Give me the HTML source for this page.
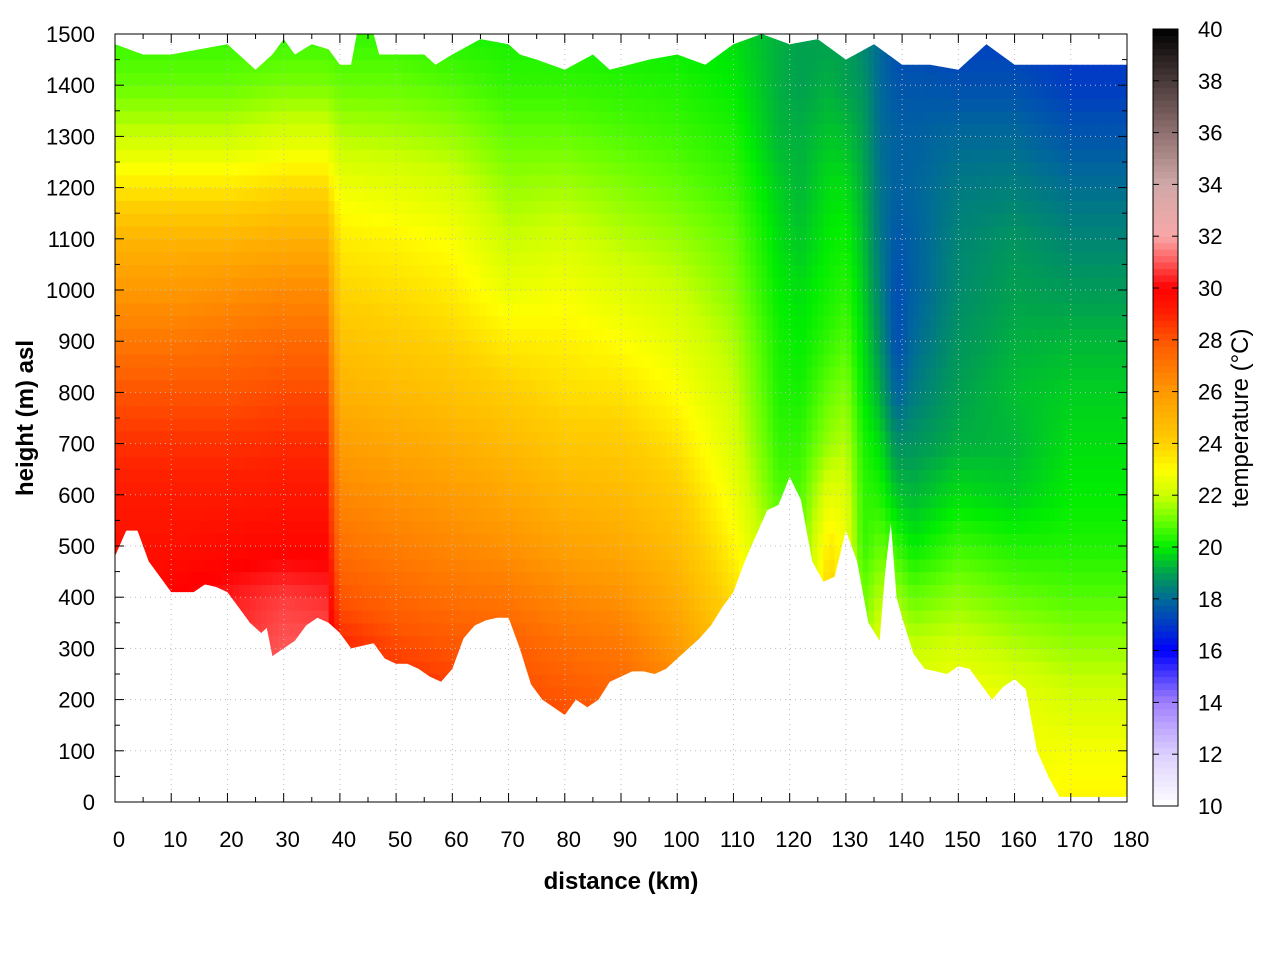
<!DOCTYPE html>
<html><head><meta charset="utf-8"><style>
body{margin:0;background:#fff}
svg text{font-family:"Liberation Sans",sans-serif;fill:#000}
</style></head><body>
<svg id="chart" width="1280" height="960" viewBox="0 0 1280 960" xmlns="http://www.w3.org/2000/svg">
<defs><clipPath id="dataClip"><path id="clipShape"/></clipPath></defs>
<g id="cells" clip-path="url(#dataClip)"></g>
<g id="grid"></g>
<g id="axes"></g>
<g id="cbar"></g>
<text x="621" y="889" text-anchor="middle" font-size="24" font-weight="bold">distance (km)</text>
<text transform="translate(33,418) rotate(-90)" text-anchor="middle" font-size="24" font-weight="bold">height (m) asl</text>
<text transform="translate(1248,418) rotate(-90)" text-anchor="middle" font-size="24">temperature (°C)</text>
</svg>
<script>
const heights=[0,100,200,300,400,500,600,700,800,900,1000,1100,1200,1300,1400,1500];
const dists=[0,10,20,30,37.5,40,50,60,70,80,90,100,110,118,122,127,130,133,136,139,142,150,160,170,180];
const temps=[
[29.5,29.5,29.5,29.5,29.5,29.5,29.2,28.7,28,27,26,25,23.5,22,21,20.5],
[30,30,30,30,30,29.5,29.2,28.7,28,27,26,25,23.5,22,21,20.5],
[30.5,30.5,30.5,30.5,30.3,29.7,29.2,28.7,28,27.2,26.2,25,23.5,22,21,20.5],
[31,31,31,31,30.7,29.8,29.3,28.8,28.2,27.4,26.4,25.2,23.8,22.3,21.2,20.5],
[31,31,31,31,30.5,29.8,29.3,28.8,28.2,27.4,26.4,25.2,23.8,22.3,21.2,20.5],
[29.3,29.3,29.3,29,28,27.2,26.5,25.8,25.1,24.5,23.9,23.4,22.7,21.8,21,20.5],
[29,29,29,28.3,27.5,26.8,26.2,25.5,24.8,24.2,23.7,23.2,22.5,21.7,21,20.5],
[28.8,28.8,28.6,28,27.2,26.5,25.9,25.2,24.5,23.9,23.4,22.9,22.2,21.5,20.8,20.3],
[28.5,28.5,28.3,27.8,27,26.2,25.5,24.8,24.1,23.4,22.6,22,21.5,21,20.5,20.2],
[28.5,28.5,28,27.3,26.5,25.7,25,24.3,23.7,23.3,22.8,22.2,21.6,21,20.5,20.2],
[28.2,28,27.6,27,26.2,25.4,24.8,24.2,23.6,23,22.4,21.8,21.3,20.8,20.4,20.1],
[27.5,27.3,26.8,26,25.3,24.7,24.2,23.6,23,22.5,22,21.5,21,20.6,20.3,20],
[25,25,24.8,24.2,23.7,23.2,22.7,22.3,22,21.7,21.3,21,20.6,20.3,20,19.8],
[22,22,22,22,21.8,21.3,20.8,20.5,20.3,20.2,20,19.8,19.6,19.3,19.2,19.2],
[21,21,21,21,21,21,20.8,20.5,20.2,20,19.8,19.5,19.3,19.2,19,19],
[24.5,24.5,24.5,24.5,24.2,23.5,22.5,21.5,21,20.5,20.2,20,19.8,19.5,19.2,19],
[23,23,23,23,23,22.8,22.3,21.8,21.3,20.8,20.4,20.1,19.8,19.4,19,19],
[21.5,21.5,21.5,21.5,21,20.5,20.5,20.3,20,19.8,19.6,19.4,19.2,19,18.8,18.5],
[22.5,22.5,22.5,22.5,21.8,21,20.3,19.8,19.2,18.8,18.5,18.3,18.2,18.1,18,18],
[22.5,22.5,22.5,22.5,21.5,20.5,19.5,18.7,17.8,17.4,17.4,17.6,17.8,17.8,17.6,17.3],
[22.5,22.5,22.5,22,21,20,19.3,18.8,18.3,18,17.8,17.8,17.9,17.8,17.6,17.3],
[23,23,23,22.2,21.4,20.6,19.8,19.2,19,18.8,18.6,18.5,18.3,18,17.5,17.1],
[22.8,22.8,22.6,21.8,21,20.3,19.6,19.3,19.4,19.2,19,18.8,18.4,18,17.5,17.1],
[23.2,22.8,22.2,21.5,20.8,20.3,20,19.8,19.6,19.3,18.9,18.5,18.1,17.6,17.1,17],
[23.2,22.8,22.2,21.5,20.8,20.3,20,19.8,19.6,19.3,18.9,18.5,18.1,17.6,17.1,17]];
const groundKm=[0,2,4,6,8,10,12,14,16,18,20,22,24,26,27,28,30,32,34,36,38,40,42,44,46,48,50,52,54,56,58,60,62,64,66,68,70,72,74,76,78,80,82,84,86,88,90,92,94,96,98,100,102,104,106,108,110,112,114,116,118,120,122,124,126,128,130,132,134,136,137,138,139,140,142,144,146,148,150,152,154,156,158,160,162,164,166,168,170,180];
const groundM=[480,530,530,470,440,410,410,410,425,420,410,380,350,330,340,285,300,315,345,360,350,330,300,305,310,280,270,270,260,245,235,260,320,345,355,360,360,300,230,200,185,170,200,185,200,235,245,255,255,250,260,280,300,320,345,380,410,470,520,570,580,635,590,470,430,440,530,470,350,315,450,545,400,360,290,260,255,250,265,260,230,200,225,240,220,100,50,10,10,10];
const topKm=[0,5,10,15,20,22,25,28,30,32,35,38,40,42,43,46,47,50,55,57,60,65,70,72,75,80,85,88,95,100,105,110,115,120,125,130,135,140,145,150,155,160,162,180];
const topM=[1480,1460,1460,1470,1480,1460,1430,1460,1490,1460,1480,1470,1440,1440,1500,1500,1460,1460,1460,1440,1460,1490,1480,1460,1450,1430,1460,1430,1450,1460,1440,1480,1500,1480,1490,1450,1480,1440,1440,1430,1480,1440,1440,1440];
const cbStops=[10,12,14,16,17,18,19,20,21,22,23,24,26,28,29,30,31,32,34,36,38,40];
const cbColors=['#ffffff','#ddd0ff','#a080ff','#0000ff','#0038c8','#006a98','#00a050','#00ee00','#66ff00','#ccff00','#ffff00','#ffd000','#ff9900','#ff5500','#ff2000','#ff0000','#ff5858','#f8a8a8','#d0a8a8','#907070','#4a3a3a','#000000'];
const xTicks=[0,10,20,30,40,50,60,70,80,90,100,110,120,130,140,150,160,170,180];
const yTicks=[0,100,200,300,400,500,600,700,800,900,1000,1100,1200,1300,1400,1500];
const cbTicks=[10,12,14,16,18,20,22,24,26,28,30,32,34,36,38,40];

const X0=115,X1=1127,Y0=802,Y1=34;
const xs=d=>X0+(d/180)*(X1-X0);
const ys=h=>Y0-(h/1500)*(Y0-Y1);
const CB_Y0=806,CB_Y1=29,CB_X=1153,CB_W=25;
const cs=t=>CB_Y0-(t-10)/30*(CB_Y0-CB_Y1);
const NS='http://www.w3.org/2000/svg';
function hex(c){return [1,3,5].map(i=>parseInt(c.substr(i,2),16));}
function color(t){
  if(t<=cbStops[0])return cbColors[0];
  for(let i=1;i<cbStops.length;i++){
    if(t<=cbStops[i]){
      const f=(t-cbStops[i-1])/(cbStops[i]-cbStops[i-1]);
      const a=hex(cbColors[i-1]),b=hex(cbColors[i]);
      return 'rgb('+a.map((v,k)=>Math.round(v+(b[k]-v)*f)).join(',')+')';
    }
  }
  return cbColors[cbColors.length-1];
}
function mk(tag,attrs,parent){const e=document.createElementNS(NS,tag);for(const k in attrs)e.setAttribute(k,attrs[k]);parent.appendChild(e);return e;}
function interpCol(arr,d){
  let i=0;while(i<dists.length-2&&d>dists[i+1])i++;
  const f=Math.max(0,Math.min(1,(d-dists[i])/(dists[i+1]-dists[i])));
  return arr[i].map((v,k)=>v+(arr[i+1][k]-v)*f);
}
function interpH(col,h){
  let j=Math.min(14,Math.floor(h/100));const f=(h-heights[j])/100;
  return col[j]+(col[j+1]-col[j])*f;
}
let dpath='M'+xs(groundKm[0])+','+ys(groundM[0]);
for(let i=1;i<groundKm.length;i++)dpath+='L'+xs(groundKm[i]).toFixed(1)+','+ys(groundM[i]).toFixed(1);
for(let i=topKm.length-1;i>=0;i--)dpath+='L'+xs(topKm[i]).toFixed(1)+','+ys(topM[i]).toFixed(1);
dpath+='Z';
document.getElementById('clipShape').setAttribute('d',dpath);
const cells=document.getElementById('cells');
const DK=1,DH=25;
for(let d=0;d<180;d+=DK){
  const col=interpCol(temps,d+DK/2);
  for(let h=0;h<1500;h+=DH){
    const t=interpH(col,h+DH/2);
    const r=mk('rect',{x:xs(d).toFixed(2),y:ys(h+DH).toFixed(2),width:(xs(d+DK)-xs(d)+0.6).toFixed(2),height:(ys(h)-ys(h+DH)+0.6).toFixed(2),fill:color(t)},cells);
    
    
  }
}
const grid=document.getElementById('grid');
xTicks.forEach(v=>{if(v>0&&v<180){const l=mk('line',{x1:xs(v),x2:xs(v),y1:Y1,y2:Y0,stroke:'#bbb','stroke-width':1,'stroke-dasharray':'1,4'},grid);}});
yTicks.forEach(v=>{if(v>0&&v<1500){const l=mk('line',{x1:X0,x2:X1,y1:ys(v),y2:ys(v),stroke:'#bbb','stroke-width':1,'stroke-dasharray':'1,4'},grid);}});
const ax=document.getElementById('axes');
const frame=mk('rect',{x:X0,y:Y1,width:X1-X0,height:Y0-Y1,fill:'none',stroke:'#000','stroke-width':1},ax);


xTicks.forEach(v=>{
  const x=xs(v);
  mk('line',{x1:x,x2:x,y1:Y0,y2:Y0-9,stroke:'#000'},ax);
  mk('line',{x1:x,x2:x,y1:Y1,y2:Y1+9,stroke:'#000'},ax);
  if(v<180){const xm=xs(v+5);mk('line',{x1:xm,x2:xm,y1:Y0,y2:Y0-5,stroke:'#000'},ax);mk('line',{x1:xm,x2:xm,y1:Y1,y2:Y1+5,stroke:'#000'},ax);}
  const t=mk('text',{x:x+4,y:847,'text-anchor':'middle','font-size':22},ax);t.textContent=v;
  
  
});
yTicks.forEach(v=>{
  const y=ys(v);
  mk('line',{x1:X0,x2:X0+9,y1:y,y2:y,stroke:'#000'},ax);
  mk('line',{x1:X1,x2:X1-9,y1:y,y2:y,stroke:'#000'},ax);
  if(v<1500){const ym=ys(v+50);mk('line',{x1:X0,x2:X0+5,y1:ym,y2:ym,stroke:'#000'},ax);mk('line',{x1:X1,x2:X1-5,y1:ym,y2:ym,stroke:'#000'},ax);}
  const t=mk('text',{x:95,y:y+8,'text-anchor':'end','font-size':22},ax);t.textContent=v;
  
  
});
const cb=document.getElementById('cbar');
for(let t=10;t<40;t+=0.25){
  const r=mk('rect',{x:CB_X,y:cs(t+0.25).toFixed(2),width:CB_W,height:(cs(t)-cs(t+0.25)+0.5).toFixed(2),fill:color(t+0.125)},cb);
  
  
}
const cbf=mk('rect',{x:CB_X,y:CB_Y1,width:CB_W,height:CB_Y0-CB_Y1,fill:'none',stroke:'#000'},cb);


cbTicks.forEach(v=>{
  const y=cs(v);
  mk('line',{x1:CB_X,x2:CB_X+6,y1:y,y2:y,stroke:'#000'},cb);
  mk('line',{x1:CB_X+CB_W,x2:CB_X+CB_W-6,y1:y,y2:y,stroke:'#000'},cb);
  const t=mk('text',{x:1198,y:y+8,'font-size':22},cb);t.textContent=v;
  
  
});
</script>
</body></html>
